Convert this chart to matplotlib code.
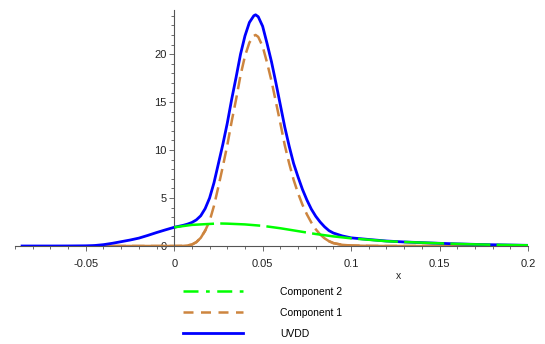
import matplotlib
matplotlib.use("Agg")
import matplotlib.pyplot as plt
from matplotlib.lines import Line2D
from matplotlib.ticker import MultipleLocator, FuncFormatter

plt.rcParams['font.family'] = ['Liberation Sans', 'DejaVu Sans']

# UVDD (total density)
uvdd_x = [-0.086, -0.07, -0.06, -0.05, -0.045, -0.04, -0.035, -0.03, -0.025, -0.02, -0.015,
          -0.01, -0.005, 0.0, 0.005, 0.0075, 0.01, 0.0125, 0.015, 0.0175, 0.02, 0.0225,
          0.025, 0.0275, 0.03, 0.0325, 0.035, 0.0375, 0.04, 0.0425, 0.045, 0.046, 0.0475,
          0.05, 0.0525, 0.055, 0.0575, 0.06, 0.0625, 0.065, 0.0675, 0.07, 0.0725, 0.075,
          0.0775, 0.08, 0.0825, 0.085, 0.0875, 0.09, 0.095, 0.1, 0.11, 0.12, 0.13, 0.14,
          0.15, 0.16, 0.17, 0.18, 0.19, 0.2]
uvdd_y = [0.0, 0.0, 0.005, 0.02, 0.05, 0.14, 0.28, 0.45, 0.62, 0.82, 1.1,
          1.4, 1.68, 1.95, 2.15, 2.28, 2.45, 2.72, 3.15, 3.9, 5.0, 6.6,
          8.6, 10.6, 12.8, 15.3, 17.6, 20.0, 21.9, 23.3, 24.0, 24.1, 23.9,
          22.9, 21.1, 19.2, 17.0, 14.7, 12.4, 10.4, 8.6, 7.2, 5.9, 4.8,
          3.85, 3.1, 2.5, 2.0, 1.6, 1.35, 1.05, 0.85, 0.68, 0.52, 0.42, 0.35,
          0.28, 0.22, 0.17, 0.13, 0.1, 0.07]

# Component 1
comp1_x = [-0.045, -0.02, 0.0, 0.005, 0.0075, 0.01, 0.0125, 0.015, 0.0175, 0.02, 0.0225,
           0.025, 0.0275, 0.03, 0.0325, 0.035, 0.0375, 0.04, 0.0425, 0.045, 0.046, 0.0475,
           0.05, 0.0525, 0.055, 0.0575, 0.06, 0.0625, 0.065, 0.0675, 0.07, 0.0725, 0.075,
           0.0775, 0.08, 0.0825, 0.085, 0.0875, 0.09, 0.095, 0.1, 0.11, 0.12, 0.195]
comp1_y = [0.0, 0.0, 0.0, 0.01, 0.05, 0.15, 0.4, 0.85, 1.6, 2.6, 4.2,
           6.2, 8.3, 10.5, 13.0, 15.3, 17.8, 19.8, 21.2, 21.9, 22.0, 21.8,
           20.8, 19.1, 17.2, 15.0, 12.8, 10.5, 8.6, 6.9, 5.5, 4.3, 3.3,
           2.45, 1.75, 1.2, 0.8, 0.5, 0.3, 0.12, 0.05, 0.01, 0.0, 0.0]

# Component 2
comp2_x = [0.0, 0.01, 0.02, 0.025, 0.03, 0.04, 0.05, 0.06, 0.07, 0.08, 0.09, 0.1,
           0.11, 0.12, 0.13, 0.14, 0.15, 0.16, 0.17, 0.18, 0.19, 0.2]
comp2_y = [1.95, 2.2, 2.3, 2.35, 2.33, 2.25, 2.1, 1.85, 1.55, 1.25, 1.0, 0.8,
           0.65, 0.5, 0.42, 0.35, 0.28, 0.22, 0.17, 0.13, 0.1, 0.07]

x_ticks = [-0.05, 0, 0.05, 0.1, 0.15, 0.2]
y_ticks = [0, 5, 10, 15, 20]
labels = ["Component 2", "Component 1", "UVDD"]

c_blue = "#0000ff"
c_green = "#00ff00"
c_orange = "#cd853f"

fig = plt.figure(figsize=(5.45, 3.44), dpi=100)
ax = fig.add_axes([15/545, (344-246)/344, 513/545, (246-10)/344])
ax.set_xlim(-0.09, 0.2)
ax.set_ylim(0, 24.6)

# Component 1: dashed on the steep part, solid-looking on the flat tails
ax.plot(comp1_x, comp1_y, color=c_orange, lw=1.8, dashes=(5, 2.5), zorder=2)
ax.plot(comp1_x[:9], comp1_y[:9], color=c_orange, lw=1.8, zorder=2)
ax.plot(comp1_x[36:], comp1_y[36:], color=c_orange, lw=1.8, zorder=2)
ax.plot(uvdd_x, uvdd_y, color=c_blue, lw=2.0, zorder=3)
ax.plot(comp2_x, comp2_y, color=c_green, lw=1.8, dashes=(16, 2.5), zorder=4)

for s in ['top', 'right']:
    ax.spines[s].set_visible(False)
ax.spines['left'].set_position(('data', 0))
ax.spines['bottom'].set_position(('data', 0))
for s in ['left', 'bottom']:
    ax.spines[s].set_color('#555555')
    ax.spines[s].set_linewidth(0.8)

ax.xaxis.set_major_locator(plt.FixedLocator(x_ticks))
ax.yaxis.set_major_locator(plt.FixedLocator(y_ticks))
ax.xaxis.set_minor_locator(MultipleLocator(0.01))
ax.yaxis.set_minor_locator(MultipleLocator(1))
fmt = FuncFormatter(lambda v, p: f"{v:g}")
ax.xaxis.set_major_formatter(fmt)
ax.yaxis.set_major_formatter(fmt)
ax.tick_params(axis='both', which='both', direction='out', color='#555555',
               labelsize=8, labelcolor='#222222', width=0.6)
ax.tick_params(axis='both', which='major', length=3.5)
ax.tick_params(axis='both', which='minor', length=2.5)
ax.tick_params(axis='x', pad=6)
ax.tick_params(axis='y', pad=2)

fig.text(399/545, 1 - 276/344, "x", fontsize=7.5, color='#222222', ha='center', va='center')

handles = [Line2D([], [], color=c_green, lw=1.8, dashes=(6, 3, 1.5, 3)),
           Line2D([], [], color=c_orange, lw=1.8, dashes=(4, 3)),
           Line2D([], [], color=c_blue, lw=2.0)]
fig.legend(handles, labels, loc='upper left', bbox_to_anchor=(183/545, 1 - 287/344),
           frameon=False, fontsize=7.5, handlelength=5.8, handletextpad=3.5,
           labelspacing=1.05, borderaxespad=0, borderpad=0)

fig.savefig("out.png", dpi=100)
